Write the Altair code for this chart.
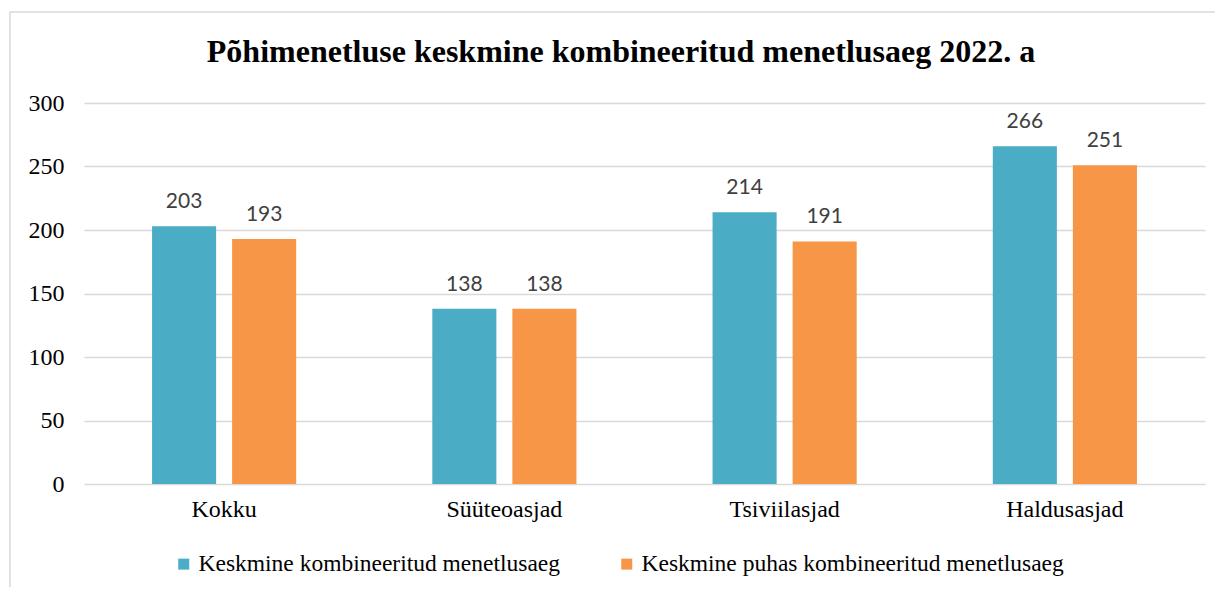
import altair as alt
import pandas as pd

categories = ["Kokku", "Süüteoasjad", "Tsiviilasjad", "Haldusasjad"]
series_names = ["Keskmine kombineeritud menetlusaeg", "Keskmine puhas kombineeritud menetlusaeg"]
values_combined = [203, 138, 214, 266]
values_pure = [193, 138, 191, 251]
colors = ["#4BACC6", "#F79646"]
title_text = "Põhimenetluse keskmine kombineeritud menetlusaeg 2022. a"

rows = []
for c, v1, v2 in zip(categories, values_combined, values_pure):
    rows.append({"cat": c, "series": series_names[0], "value": v1})
    rows.append({"cat": c, "series": series_names[1], "value": v2})
df = pd.DataFrame(rows)

W, H = 1121, 381

base = alt.Chart(df).encode(
    x=alt.X("cat:N", sort=categories, title=None,
            scale=alt.Scale(paddingInner=0, paddingOuter=0),
            axis=alt.Axis(labelAngle=0, labelFont="Liberation Serif", labelFontSize=24,
                          labelColor="#000000", labelPadding=13, ticks=False, domain=False)),
    xOffset=alt.XOffset("series:N", sort=series_names,
                        scale=alt.Scale(paddingInner=0.2, paddingOuter=0.85)),
)

bars = base.mark_bar().encode(
    y=alt.Y("value:Q", title=None,
            scale=alt.Scale(domain=[0, 300]),
            axis=alt.Axis(values=[0, 50, 100, 150, 200, 250, 300], labelFont="Liberation Serif",
                          labelFontSize=24, labelColor="#000000", labelPadding=20,
                          ticks=False, domain=False, gridColor="#D9D9D9", gridWidth=1.5)),
    color=alt.Color("series:N", sort=series_names,
                    scale=alt.Scale(domain=series_names, range=colors),
                    legend=alt.Legend(title=None, orient="none", direction="horizontal",
                                      legendX=88, legendY=449, symbolType="square",
                                      symbolSize=121, symbolStrokeWidth=0, symbolOpacity=1,
                                      labelFont="Liberation Serif", labelFontSize=23.5,
                                      labelColor="#000000", labelOffset=3,
                                      columnPadding=54, labelLimit=600)),
)

labels = base.mark_text(font="Lato", fontSize=21, color="#404040",
                        baseline="alphabetic", dy=-18).encode(
    y=alt.Y("value:Q"),
    text=alt.Text("value:Q"),
)

frame = alt.Chart(pd.DataFrame({"f": [0]})).mark_rect(
    fill=None, stroke="#D9D9D9", strokeWidth=1.5
).encode(
    x=alt.value(-74), x2=alt.value(1160), y=alt.value(-91), y2=alt.value(520)
)

title = alt.Chart(pd.DataFrame({"t": [title_text]})).mark_text(
    font="Liberation Serif", fontSize=32, fontWeight="bold", color="#000000",
    align="center", baseline="alphabetic"
).encode(
    text="t:N", x=alt.value(537), y=alt.value(-41)
)

chart = alt.layer(frame, bars, labels, title).properties(
    width=W, height=H,
    autosize=alt.AutoSizeParams(type="none"),
    padding={"left": 76, "top": 95, "right": 10, "bottom": 103},
).configure_view(stroke=None)

chart.save("out.html", embed_options={"renderer": "svg", "actions": False})
